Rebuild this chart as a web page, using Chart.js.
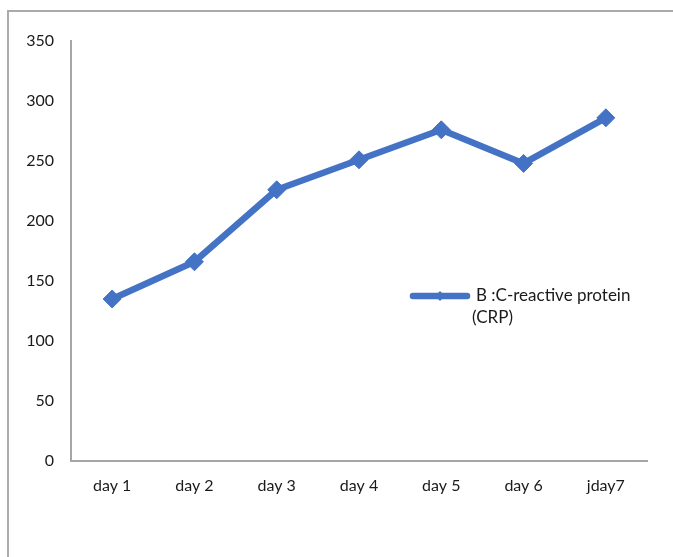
<!DOCTYPE html>
<html>
<head>
<meta charset="utf-8">
<script src="https://cdn.jsdelivr.net/npm/chart.js@4/dist/chart.umd.min.js"></script>
<style>
  html, body { margin: 0; padding: 0; background: #ffffff; }
  #wrap { position: relative; width: 673px; height: 557px; }
</style>
</head>
<body>
<div id="wrap"><canvas id="c" width="673" height="557"></canvas></div>
<script>
// Daily CRP readings
const categories = ['day 1', 'day 2', 'day 3', 'day 4', 'day 5', 'day 6', 'jday7'];
const crpValues = [135, 166, 226, 251, 276, 248, 286];
const seriesLabel = ['B :C-reactive protein', '(CRP)'];
const yTicks = { min: 0, max: 350, step: 50 };

const BLUE = '#4472C4';
const TEXT = '#1a1a1a';
const FONT = "Lato, 'Open Sans', sans-serif";

// Outer frame: grey rules along the top and left edges
const framePlugin = {
  id: 'frame',
  beforeDraw(chart) {
    const ctx = chart.ctx;
    ctx.save();
    ctx.strokeStyle = '#ababab';
    ctx.lineWidth = 2;
    ctx.beginPath();
    ctx.moveTo(8, 557);
    ctx.lineTo(8, 11);
    ctx.lineTo(673, 11);
    ctx.stroke();
    ctx.restore();
  }
};

// Legend drawn inside the plot area, to the right
const insideLegend = {
  id: 'insideLegend',
  afterDraw(chart) {
    const ctx = chart.ctx;
    const ds = chart.data.datasets[0];
    const x0 = 413, x1 = 467, y = 296;
    ctx.save();
    ctx.strokeStyle = ds.borderColor;
    ctx.lineWidth = 6.5;
    ctx.lineCap = 'round';
    ctx.beginPath();
    ctx.moveTo(x0, y);
    ctx.lineTo(x1, y);
    ctx.stroke();
    // small diamond marker on the sample line
    ctx.fillStyle = ds.borderColor;
    ctx.beginPath();
    const mx = (x0 + x1) / 2, r = 5;
    ctx.moveTo(mx, y - r);
    ctx.lineTo(mx + r, y);
    ctx.lineTo(mx, y + r);
    ctx.lineTo(mx - r, y);
    ctx.closePath();
    ctx.fill();
    ctx.fillStyle = TEXT;
    ctx.font = '17px ' + FONT;
    ctx.textBaseline = 'middle';
    ctx.textAlign = 'left';
    const lines = ds.legendLines;
    ctx.fillText(lines[0], 476, y);
    ctx.fillText(lines[1], 472, y + 22);
    ctx.restore();
  }
};

new Chart(document.getElementById('c'), {
  type: 'line',
  data: {
    labels: categories,
    datasets: [{
      label: seriesLabel.join(' '),
      legendLines: seriesLabel,
      data: crpValues,
      borderColor: BLUE,
      backgroundColor: BLUE,
      borderWidth: 6.5,
      borderJoinStyle: 'round',
      borderCapStyle: 'round',
      pointStyle: 'rectRot',
      pointRadius: 9,
      pointHoverRadius: 9,
      pointBackgroundColor: BLUE,
      pointBorderColor: BLUE,
      pointBorderWidth: 1,
      tension: 0
    }]
  },
  options: {
    responsive: false,
    animation: false,
    devicePixelRatio: 1,
    layout: { padding: { left: 0, top: 41, right: 26, bottom: 0 } },
    plugins: {
      legend: { display: false },
      tooltip: { enabled: false }
    },
    scales: {
      x: {
        offset: true,
        grid: { display: false, drawTicks: false },
        border: { display: true, color: '#a6a6a6', width: 2 },
        ticks: {
          color: TEXT,
          font: { family: FONT, size: 16 },
          padding: 15,
          maxRotation: 0
        },
        afterFit(scale) { scale.height = 96; }
      },
      y: {
        min: yTicks.min,
        max: yTicks.max,
        grid: { display: false, drawTicks: false },
        border: { display: true, color: '#a6a6a6', width: 2 },
        ticks: {
          stepSize: yTicks.step,
          color: TEXT,
          font: { family: FONT, size: 16 },
          padding: 17
        },
        afterFit(scale) { scale.width = 71; }
      }
    }
  },
  plugins: [framePlugin, insideLegend]
});
</script>
</body>
</html>
